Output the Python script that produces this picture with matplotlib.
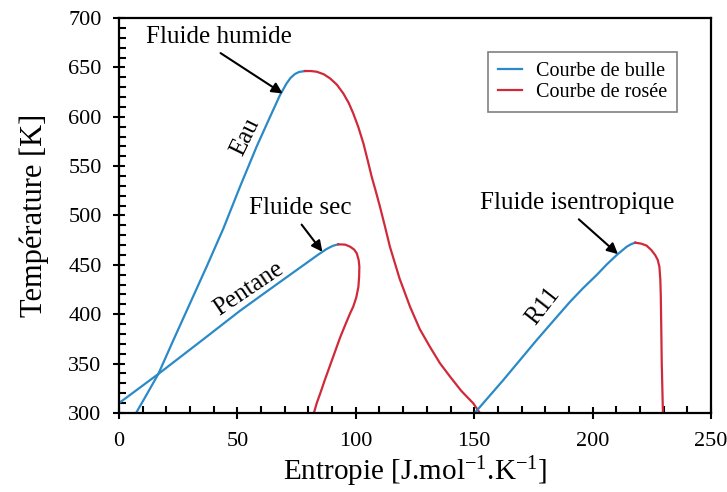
# T-s diagram: bubble / dew curves for water, pentane and R11

import matplotlib.pyplot as plt
from matplotlib.ticker import MultipleLocator

plt.rcParams['font.family'] = ['Liberation Serif', 'DejaVu Serif']
plt.rcParams['mathtext.fontset'] = 'custom'
plt.rcParams['mathtext.rm'] = 'Liberation Serif'
plt.rcParams['mathtext.it'] = 'Liberation Serif:italic'

BLUE = '#2a8ac8'
RED = '#d02a3a'

# Eau (fluide humide)
eau_bulle_s = [7.2, 12, 16.6, 23, 29.3, 37, 44.1, 51.1, 58.1, 63.8, 68, 70.8, 72.5, 74.3, 76, 78.5]
eau_bulle_T = [300, 320, 339.5, 374, 407.4, 448.2, 487, 529.2, 569.7, 600, 622, 633.9, 639.5, 643.3, 645.3, 646.3]
eau_rosee_s = [78.5, 81, 83.5, 86.5, 89.1, 92, 94.7, 97, 98.9, 101, 103.2, 105, 106.7, 108.5,
               110.2, 112.3, 114.4, 118.5, 122.9, 127, 131.3, 135.5, 139.8, 144.5, 149.6, 152.4]
eau_rosee_T = [646.3, 646.3, 645.6, 643, 638.9, 632.5, 623.7, 614, 603.5, 590, 573.1, 556, 539.3, 524,
               508.9, 489, 468.4, 436, 407.6, 385, 367, 350.5, 336.8, 322.5, 309.8, 300]

# Pentane (fluide sec)
pent_bulle_s = [0, 16.6, 35, 51.1, 60.9, 70.8, 80.7, 84.5, 87.7, 90.3, 92.6]
pent_bulle_T = [310, 339.5, 373.5, 403.5, 420.5, 437.5, 454.5, 461, 466.1, 469.3, 470.8]
pent_rosee_s = [92.6, 95.5, 97.6, 99.3, 100.4, 101.2, 101.5, 101.4, 101.1, 100.2, 98.9, 97.6,
                95.5, 93.3, 91.2, 89.1, 87, 85, 83.5, 82.3]
pent_rosee_T = [470.8, 470.5, 468.4, 465.5, 461.7, 455, 448.2, 438, 427.9, 417, 407.6, 401,
                389, 376, 362, 348, 334, 320, 310, 300]

# R11 (fluide isentropique)
r11_bulle_s = [150.2, 156, 162.3, 176.4, 183.5, 190.5, 196, 201.7, 206, 210.2, 214.4, 216.3, 218]
r11_bulle_T = [300, 316, 333.4, 373.9, 393.5, 412.7, 426.5, 439.7, 450.5, 460, 468.4, 471, 472.5]
r11_rosee_s = [218, 220.5, 222.8, 224.8, 226.4, 227.5, 228.2, 228.6, 228.8, 229, 229.2, 229.5, 229.7]
r11_rosee_T = [472.5, 471.5, 469.5, 465, 460, 455, 448.2, 435, 417.8, 385, 350.3, 320, 300]

fig = plt.figure(figsize=(7.27, 4.92), dpi=100)
ax = fig.add_axes([0.1637, 0.1606, 0.8143, 0.8028])

lw = 1.6
ax.plot(eau_bulle_s, eau_bulle_T, color=BLUE, lw=lw, label='Courbe de bulle')
ax.plot(eau_rosee_s, eau_rosee_T, color=RED, lw=lw, label='Courbe de rosée')
ax.plot(pent_bulle_s, pent_bulle_T, color=BLUE, lw=lw)
ax.plot(pent_rosee_s, pent_rosee_T, color=RED, lw=lw)
ax.plot(r11_bulle_s, r11_bulle_T, color=BLUE, lw=lw)
ax.plot(r11_rosee_s, r11_rosee_T, color=RED, lw=lw)

ax.set_xlim(0, 250)
ax.set_ylim(300, 700)
ax.xaxis.set_major_locator(MultipleLocator(50))
ax.xaxis.set_minor_locator(MultipleLocator(10))
ax.yaxis.set_major_locator(MultipleLocator(50))
ax.yaxis.set_minor_locator(MultipleLocator(10))
ax.tick_params(which='major', direction='inout', length=9, width=1.5, labelsize=16)
ax.tick_params(axis='y', which='major', pad=8)
ax.tick_params(axis='x', which='major', pad=9)
ax.tick_params(which='minor', direction='in', length=5, width=1.5)
for sp in ax.spines.values():
    sp.set_linewidth(1.6)

ax.set_xlabel('Entropie [J.mol$^{-1}$.K$^{-1}$]', fontsize=21, labelpad=3)
ax.set_ylabel('Température [K]', fontsize=22, labelpad=14)

arrow = dict(arrowstyle='-|>', color='black', lw=1.5, mutation_scale=16)
ax.text(42.2, 680.8, 'Fluide humide', fontsize=18, ha='center', va='center')
ax.annotate('', xy=(70.1, 622), xytext=(41.9, 666), arrowprops=arrow)
ax.text(76.4, 507.3, 'Fluide sec', fontsize=18, ha='center', va='center')
ax.annotate('', xy=(86.6, 461), xytext=(76.4, 493), arrowprops=arrow)
ax.text(193.3, 512.3, 'Fluide isentropique', fontsize=18, ha='center', va='center')
ax.annotate('', xy=(211.6, 459), xytext=(193.3, 498), arrowprops=arrow)

ax.text(53.2, 580, 'Eau', fontsize=18, rotation=64, ha='center', va='center')
ax.text(54.6, 426, 'Pentane', fontsize=18, rotation=34, ha='center', va='center')
ax.text(179.2, 408, 'R11', fontsize=18, rotation=52, ha='center', va='center')

leg = ax.legend(loc='upper right', bbox_to_anchor=(0.9426, 0.914), fontsize=14.5,
                frameon=True, fancybox=False, borderaxespad=0, handlelength=1.15,
                handletextpad=0.7, borderpad=0.5, labelspacing=0.1)
leg.get_frame().set_edgecolor('#606060')
leg.get_frame().set_linewidth(1.2)

plt.savefig('out.png', dpi=100)
plt.close(fig)
